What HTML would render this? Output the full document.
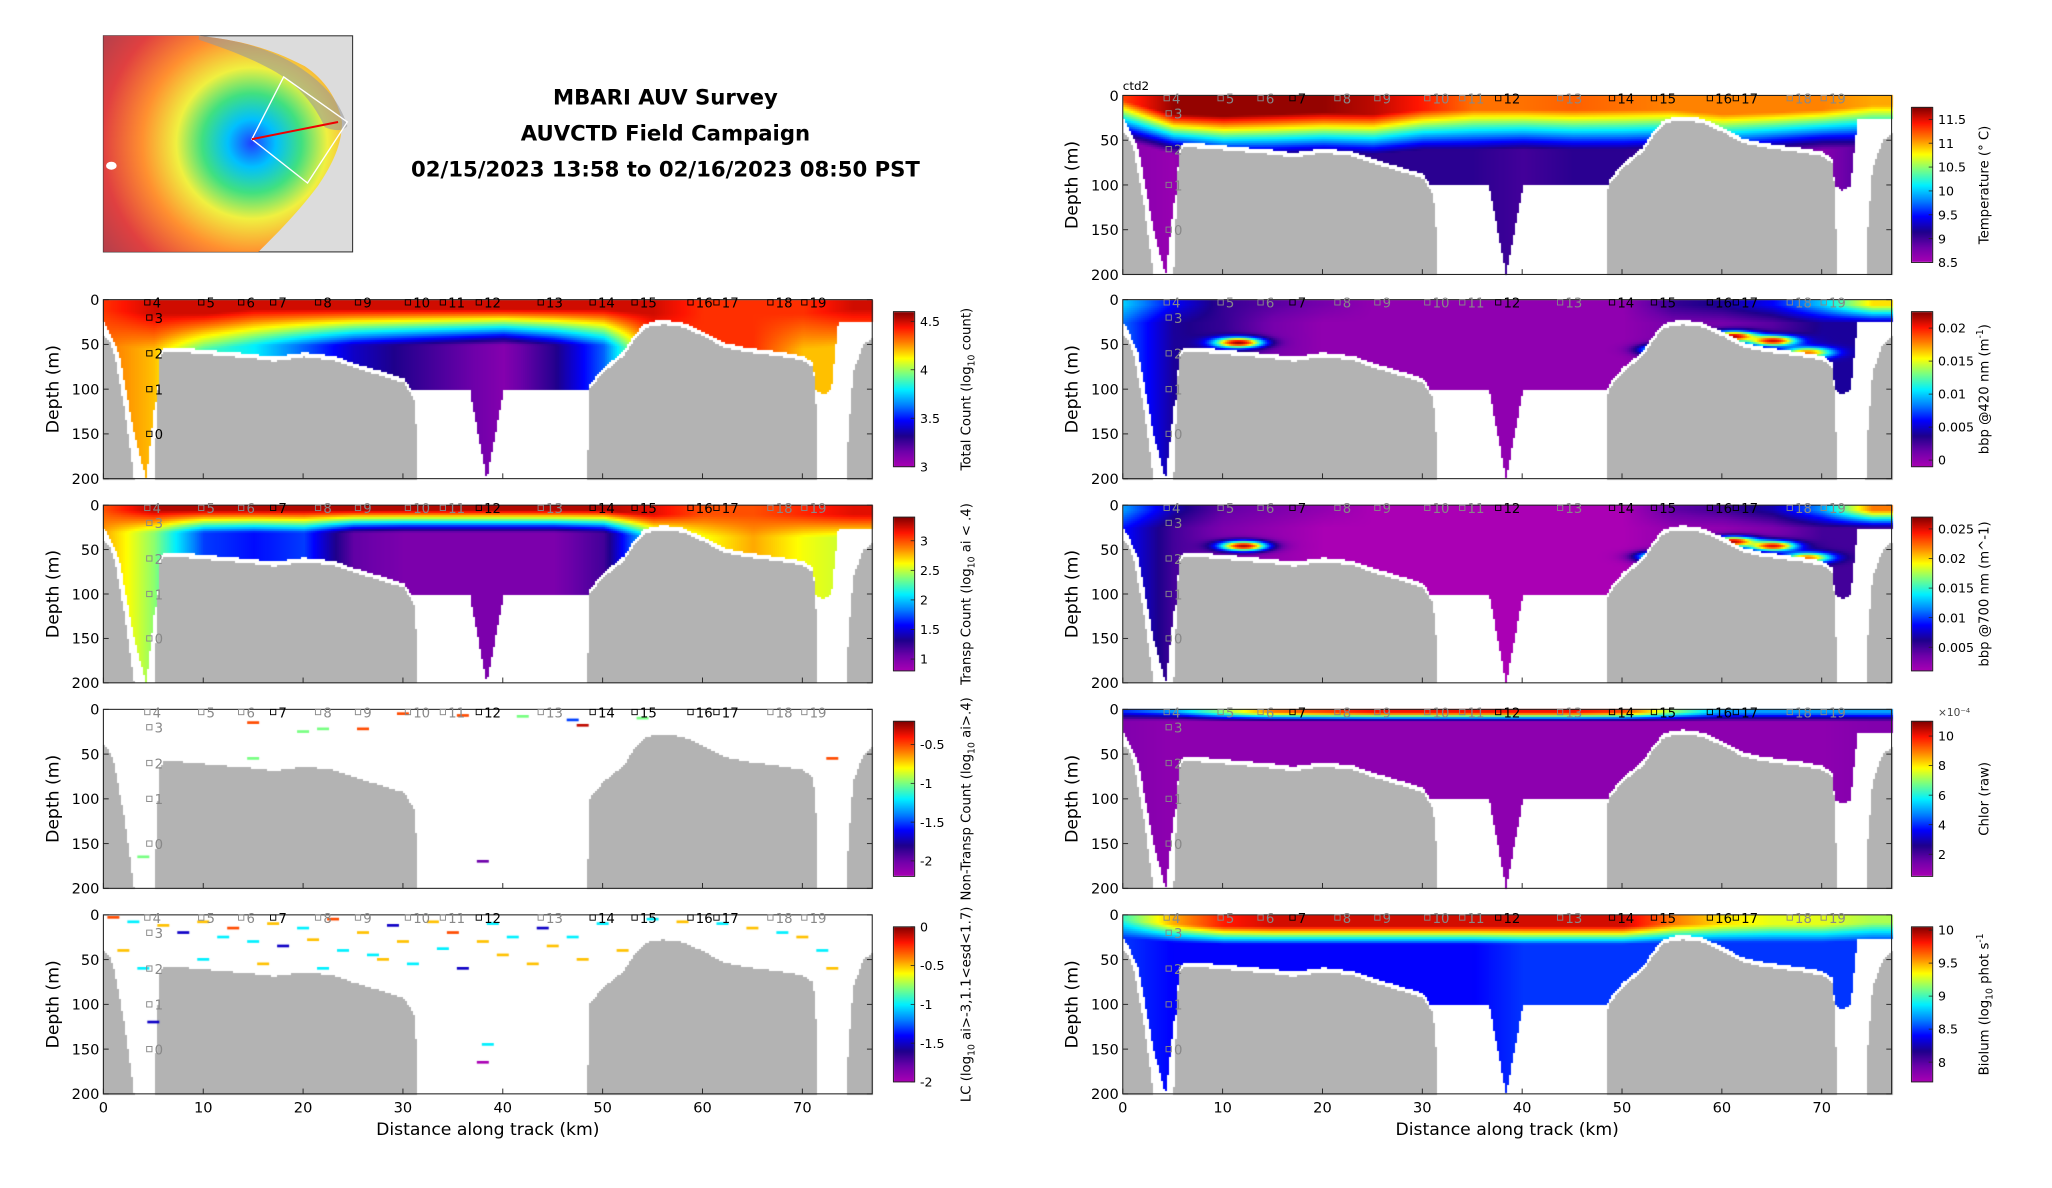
<!DOCTYPE html>
<html><head><meta charset="utf-8">
<style>
html,body{margin:0;padding:0;background:#fff;}
#wrap{position:relative;width:2052px;height:1188px;overflow:hidden;}
canvas,svg{position:absolute;left:0;top:0;}
text{font-family:"DejaVu Sans","Liberation Sans",sans-serif;}
</style></head>
<body>
<div id="wrap">
<canvas id="cv" width="2052" height="1188"></canvas>
<svg id="sv" width="2052" height="1188" viewBox="0 0 1548 896" preserveAspectRatio="none">
<defs>
<radialGradient id="mapg" cx="190" cy="108" r="150" gradientUnits="userSpaceOnUse">
<stop offset="0" stop-color="#2040ff"/><stop offset="0.12" stop-color="#00c0ff"/>
<stop offset="0.25" stop-color="#40e080"/><stop offset="0.38" stop-color="#f0f040"/>
<stop offset="0.55" stop-color="#ff9030"/><stop offset="0.75" stop-color="#e04040"/>
<stop offset="1" stop-color="#a04050"/></radialGradient>
</defs>
<g id="map">
<rect x="78" y="27" width="188" height="163" fill="#dcdcdc" stroke="#333" stroke-width="0.8"/>
<path d="M78,27 L150,27 C175,30 200,34 230,50 C245,60 255,75 258,92 C258,110 250,125 240,140 C225,160 210,175 195,190 L78,190 Z" fill="url(#mapg)"/>
<path d="M150,27 C180,30 210,38 232,55 C250,68 258,82 262,95 C258,100 250,98 245,96 C238,80 225,62 200,50 C185,42 165,35 150,30 Z" fill="#9a9a9a" opacity="0.6"/>
<polygon points="190,105 214,58 262,92 232,138" fill="none" stroke="#fff" stroke-width="1"/>
<line x1="190" y1="105" x2="255" y2="92" stroke="#e00" stroke-width="1.5"/>
<ellipse cx="84" cy="125" rx="4" ry="3" fill="#fff"/>
</g>
<g font-weight="bold" font-size="16" text-anchor="middle">
<text x="502" y="79">MBARI AUV Survey</text>
<text x="502" y="106">AUVCTD Field Campaign</text>
<text x="502" y="133">02/15/2023 13:58 to 02/16/2023 08:50 PST</text>
</g>
<g id="axes"></g>
</svg>
</div>
<script>
// ---------- shared data ----------
const knotKm = [0,5,10,15,20,25,30,35,40,45,50,55,60,65,70,75];
const bathyKm = [0,0.5,1,2,3,3.5,4.5,5,5.5,6,8,10,12,15,17,20,23,25,28,30,31,31.3,31.5,48.3,48.5,50,52,53,54,55,56,57,58,60,62,64,66,68,70,71,71.3,71.5,74,74.5,75,76,77];
const bathyZ  = [40,45,60,120,200,300,300,200,65,57,58,60,62,65,68,63,67,75,85,92,110,150,300,300,100,80,62,45,32,28,27,28,30,40,52,57,60,63,67,75,120,300,300,150,80,50,40];
const capKm = [0,0.5,1.5,3,4.2,5,5.5,36.6,38.3,40,71.2,72,72.8,73.5,77];
const capZ  = [25,35,60,150,200,120,100,100,200,100,100,105,100,25,25];
const stationKm = [4.4,9.8,13.8,17,21.5,25.5,30.5,34,37.6,43.8,49,53.2,58.8,61.4,66.8,70.2];
const stationLbl = ["4","5","6","7","8","9","10","11","12","13","14","15","16","17","18","19"];
const stationDark = [0,0,0,1,0,0,0,0,1,0,1,1,1,1,0,0];
const profLbl = ["3","2","1","0"];
const profZ = [20,60,100,150];
const xTicks = [0,10,20,30,40,50,60,70];
const yTicks = [0,50,100,150,200];

// ---------- panel field data ----------
const tempTop  = [11.3,11.7,11.7,11.7,11.7,11.6,11.4,11.15,11.15,11.2,11.15,11.1,11.1,11.1,11.1,11.0];
const tempMld  = [5,20,22,20,18,20,15,15,15,15,15,15,20,18,15,10];
const tempDeep = [8.7,8.6,9.0,9.1,9.1,9.1,9.1,9.1,9.0,9.1,9.1,9.0,9.0,8.8,8.7,9.0];

const totTop  = [4.4,4.5,4.5,4.5,4.5,4.5,4.5,4.5,4.5,4.5,4.5,4.5,4.4,4.4,4.4,4.5];
const totMld  = [10,15,15,10,10,10,10,10,10,10,10,15,15,15,15,10];
const totDeep = [4.3,4.2,3.9,3.8,3.6,3.4,3.3,3.2,3.1,3.3,3.6,4.3,4.4,4.4,4.2,4.2];

const trTop  = [3.0,3.3,3.3,3.3,3.3,3.3,3.3,3.3,3.3,3.3,3.3,3.2,3.0,3.0,3.1,3.2];
const trMld  = [5,5,5,5,5,5,5,5,5,5,5,10,10,10,10,10];
const trDeep = [2.8,2.4,1.7,1.6,1.7,1.1,1.0,1.0,1.0,1.0,1.2,2.2,2.6,2.8,2.6,2.5];

const b4Top  = [0.010,0.006,0.003,0.002,0.001,0.0,0.0,0.0,0.0,0.0,0.0,0.003,0.004,0.006,0.010,0.016];
const b4Mld  = [5,5,5,5,5,5,5,5,5,5,5,5,5,5,5,5];
const b4Deep = [0.008,0.004,0.003,0.001,0.0,0.0,0.0,0.0,0.0,0.0,0.0,0.001,0.001,0.002,0.004,0.004];
const b4BlobKm = [11.5,54.5,61,65,68.5];
const b4BlobZ  = [47,55,40,45,58];
const b4BlobV  = [0.022,0.02,0.022,0.021,0.018];

const b7Top  = [0.012,0.007,0.004,0.003,0.002,0.001,0.001,0.001,0.001,0.001,0.001,0.004,0.005,0.007,0.012,0.022];
const b7Mld  = [5,5,5,5,5,5,5,5,5,5,5,5,5,5,5,5];
const b7Deep = [0.009,0.005,0.003,0.002,0.001,0.001,0.001,0.001,0.001,0.001,0.001,0.002,0.002,0.003,0.005,0.005];
const b7BlobKm = [12,54,61,65,68.5];
const b7BlobZ  = [45,57,40,45,58];
const b7BlobV  = [0.026,0.024,0.026,0.025,0.022];

const chTop  = [4,5,7,9,9.5,10,10,10,10,10,9.5,7,5,5,5,5];
const chMld  = [2,2,3,3,3,3,3,3,3,3,3,3,3,3,3,3];
const chDeep = [1.2,1.0,1.0,1.0,1.0,1.0,1.0,1.0,1.0,1.0,1.0,1.0,1.0,1.0,1.0,1.2];

const blTop  = [9.0,9.5,9.8,9.9,9.9,9.9,9.9,9.9,9.9,9.9,9.9,9.6,9.4,9.3,9.3,9.2];
const blMld  = [5,10,12,12,12,12,12,12,12,12,12,10,10,10,10,8];
const blDeep = [8.5,8.4,8.4,8.4,8.4,8.4,8.4,8.4,8.5,8.5,8.5,8.5,8.5,8.5,8.5,8.5];

const ntKm  = [15,20,22,26,36,47,48,54,73,4,38,15,30,42];
const ntZ   = [15,25,22,22,7,12,18,10,55,165,170,55,5,8];
const ntVal = [-0.5,-1,-1,-0.5,-0.5,-1.5,-0.3,-1,-0.5,-1,-2,-1,-0.5,-1];

const lcKm  = [1,3,6,8,10,12,13,15,17,18,20,21,23,24,26,27,29,30,31,33,34,35,36,38,39,40,41,43,44,45,47,48,50,52,55,58,62,65,68,70,72,73,4,5,38.5,38,2,10,16,22,28];
const lcZ   = [3,8,12,20,8,25,15,30,10,35,15,28,5,40,20,45,12,30,55,8,38,20,60,30,10,45,25,55,15,35,25,50,10,40,5,8,10,15,20,25,40,60,60,120,145,165,40,50,55,60,50];
const lcVal = [-0.3,-1,-0.5,-1.5,-0.5,-1,-0.3,-1,-0.5,-1.5,-1,-0.5,-0.3,-1,-0.5,-1,-1.5,-0.5,-1,-0.5,-1,-0.3,-1.5,-0.5,-1,-0.5,-1,-0.5,-1.5,-0.5,-1,-0.5,-1,-0.5,-1,-0.5,-1,-0.5,-1,-0.5,-1,-0.5,-1,-1.5,-1,-2,-0.5,-1,-0.5,-1,-0.5];

// ---------- helpers ----------
function interp(xs,ys,x){
  if(x<=xs[0])return ys[0];
  for(let i=1;i<xs.length;i++){ if(x<=xs[i]){const t=(x-xs[i-1])/(xs[i]-xs[i-1]||1);return ys[i-1]+t*(ys[i]-ys[i-1]);} }
  return ys[ys.length-1];
}
const cmStops=[[0,[170,0,180]],[0.1,[110,0,170]],[0.2,[30,0,140]],[0.3,[0,0,255]],[0.4,[0,128,255]],[0.5,[0,240,255]],[0.6,[120,255,130]],[0.7,[255,255,0]],[0.8,[255,130,0]],[0.9,[255,20,0]],[1,[130,0,0]]];
function cmap(t){
  t=Math.max(0,Math.min(1,t));
  for(let i=1;i<cmStops.length;i++){ if(t<=cmStops[i][0]){const a=cmStops[i-1],b=cmStops[i];const u=(t-a[0])/(b[0]-a[0]);
    return 'rgb('+a[1].map((c,k)=>Math.round(c+u*(b[1][k]-c))).join(',')+')';} }
  return 'rgb(130,0,0)';
}
function profileField(top,mld,deep,thick,bk,bz,bv,rx,rz){
  return function(km,z){
    const m=interp(knotKm,mld,km),a=interp(knotKm,top,km),d=interp(knotKm,deep,km);
    let v = z<m?a:(z<m+thick? a+(d-a)*(z-m)/thick : d);
    if(bk){ for(let i=0;i<bk.length;i++){ const e=Math.exp(-Math.pow((km-bk[i])/rx,2)-Math.pow((z-bz[i])/rz,2)); v=Math.max(v, v+(bv[i]-v)*e);} }
    return v;
  };
}

const panels=[
 {id:'total-count',x0:78,y0:226,y1:361,side:'L',vmin:3,vmax:4.6,ticks:[3,3.5,4,4.5],lbl:['Total Count (log','10',' count)'],field:profileField(totTop,totMld,totDeep,40),dark:1},
 {id:'transp-count',x0:78,y0:381,y1:515,side:'L',vmin:0.8,vmax:3.4,ticks:[1,1.5,2,2.5,3],lbl:['Transp Count (log','10',' ai < .4)'],field:profileField(trTop,trMld,trDeep,25)},
 {id:'nontransp-count',x0:78,y0:535,y1:670,side:'L',vmin:-2.2,vmax:-0.2,ticks:[-2,-1.5,-1,-0.5],lbl:['Non-Transp Count (log','10',' ai>.4)'],pts:[ntKm,ntZ,ntVal]},
 {id:'lc',x0:78,y0:690,y1:825,side:'L',vmin:-2,vmax:0,ticks:[-2,-1.5,-1,-0.5,0],lbl:['LC (log','10',' ai>-3,1.1<esd<1.7)'],pts:[lcKm,lcZ,lcVal],xl:1},
 {id:'temperature',x0:847,y0:72,y1:207,side:'R',vmin:8.5,vmax:11.75,ticks:[8.5,9,9.5,10,10.5,11,11.5],lbl:['Temperature (° C)','',''],field:profileField(tempTop,tempMld,tempDeep,45),ctd:1},
 {id:'bbp420',x0:847,y0:226,y1:361,side:'R',vmin:-0.001,vmax:0.0225,ticks:[0,0.005,0.01,0.015,0.02],lbl:['bbp @420 nm (m','-1',')'],sup:1,field:profileField(b4Top,b4Mld,b4Deep,20,b4BlobKm,b4BlobZ,b4BlobV,2.5,6)},
 {id:'bbp700',x0:847,y0:381,y1:515,side:'R',vmin:0.001,vmax:0.027,ticks:[0.005,0.01,0.015,0.02,0.025],lbl:['bbp @700 nm (m^-1)','',''],field:profileField(b7Top,b7Mld,b7Deep,20,b7BlobKm,b7BlobZ,b7BlobV,2.5,6)},
 {id:'chlorophyll',x0:847,y0:535,y1:670,side:'R',vmin:0.5,vmax:11,ticks:[2,4,6,8,10],lbl:['Chlor (raw)','',''],field:profileField(chTop,chMld,chDeep,10),exp:1},
 {id:'bioluminescence',x0:847,y0:690,y1:825,side:'R',vmin:7.7,vmax:10.05,ticks:[8,8.5,9,9.5,10],lbl:['Biolum (log','10',' phot s',''],field:profileField(blTop,blMld,blDeep,20),xl:1},
];
const W=580, S=2052/1548;
const cv=document.getElementById('cv'), ctx=cv.getContext('2d');
const NS='http://www.w3.org/2000/svg';
const axesG=document.getElementById('axes');
function el(tag,attrs,parent){const e=document.createElementNS(NS,tag);for(const k in attrs)e.setAttribute(k,attrs[k]);(parent||axesG).appendChild(e);return e;}

panels.forEach(p=>{
  const x0=p.x0,x1=x0+W,y0=p.y0,y1=p.y1,H=y1-y0;
  const xs=km=>x0+km/77*W, ys=z=>y0+z/200*H;
  const rx0=Math.round(x0*S),rx1=Math.round(x1*S),ry0=Math.round(y0*S),ry1=Math.round(y1*S);
  for(let rx=rx0;rx<rx1;rx+=2){
    const km=(rx/S-x0)/W*77;
    const bz=interp(bathyKm,bathyZ,km), cz=interp(capKm,capZ,km);
    const db=Math.min(cz,bz-5);
    for(let ry=ry0;ry<ry1;ry+=2){
      const z=(ry/S-y0)/H*200;
      let col=null;
      if(z>=bz) col='#b3b3b3';
      else if(z<db && p.field) col=cmap((p.field(km,z)-p.vmin)/(p.vmax-p.vmin));
      if(col){ctx.fillStyle=col;ctx.fillRect(rx,ry,2,2);}
    }
  }
  if(p.pts){
    const [pk,pz,pv]=p.pts;
    for(let i=0;i<pk.length;i++){
      ctx.fillStyle=cmap((pv[i]-p.vmin)/(p.vmax-p.vmin));
      ctx.fillRect(xs(pk[i]-0.6)*S,ys(pz[i]-1.5)*S,(1.2/77*W)*S,(3/200*H)*S);
    }
  }
  const cx0=p.side==='L'?674:1442, cw=16, cy0=y0+9, cy1=y1-9;
  for(let ry=Math.round(cy0*S);ry<Math.round(cy1*S);ry++){
    ctx.fillStyle=cmap(1-(ry/S-cy0)/(cy1-cy0));ctx.fillRect(cx0*S,ry,cw*S,1);
  }
  const g=el('g',{});
  
  
  const frame=el('rect',{x:x0,y:y0,width:W,height:H,fill:'none',stroke:'#222','stroke-width':0.8},g);
  
  
  yTicks.forEach(v=>{
    const y=ys(v);
    el('line',{x1:x0,x2:x0+4,y1:y,y2:y,stroke:'#222','stroke-width':0.7},g);
    el('line',{x1:x1,x2:x1-4,y1:y,y2:y,stroke:'#222','stroke-width':0.7},g);
    const t=el('text',{x:x0-3,y:y+4,'font-size':11,'text-anchor':'end'},g);
    t.textContent=v;
    
    
  });
  xTicks.forEach(v=>{
    const x=xs(v);
    el('line',{x1:x,x2:x,y1:y1,y2:y1-4,stroke:'#222','stroke-width':0.7},g);
    if(p.xl){const t=el('text',{x:x,y:y1+14,'font-size':11,'text-anchor':'middle'},g);t.textContent=v;
      
      }
  });
  const yt=el('text',{x:0,y:0,'font-size':13,'text-anchor':'middle',transform:`translate(${x0-34},${(y0+y1)/2}) rotate(-90)`},g);
  yt.textContent='Depth (m)';
  
  
  if(p.xl){const xt=el('text',{x:(x0+x1)/2,y:y1+31,'font-size':13,'text-anchor':'middle'},g);xt.textContent='Distance along track (km)';
    
    }
  if(p.ctd){const c=el('text',{x:x0,y:y0-4,'font-size':9},g);c.textContent='ctd2';
    
    }
  const dk=p.dark?1:0;
  stationKm.forEach((k,i)=>{
    const col=(stationDark[i]||dk)?'#000':'#888';
    const x=xs(k), y=ys(3);
    el('rect',{x:x-2,y:y-2,width:4,height:4,fill:'none',stroke:col,'stroke-width':0.7},g);
    const t=el('text',{x:x+4,y:y+4,'font-size':10,fill:col},g);t.textContent=stationLbl[i];
    
    
  });
  profZ.forEach((z,i)=>{
    const x=xs(4.6), y=ys(z), col=dk?'#000':'#888';
    el('rect',{x:x-2,y:y-2,width:4,height:4,fill:'none',stroke:col,'stroke-width':0.7},g);
    const t=el('text',{x:x+4,y:y+4,'font-size':10,fill:col},g);t.textContent=profLbl[i];
    
    
  });
  const cb=el('rect',{x:cx0,y:cy0,width:cw,height:cy1-cy0,fill:'none',stroke:'#222','stroke-width':0.7},g);
  
  
  p.ticks.forEach(v=>{
    const y=cy1-(v-p.vmin)/(p.vmax-p.vmin)*(cy1-cy0);
    el('line',{x1:cx0+cw,x2:cx0+cw-3,y1:y,y2:y,stroke:'#222','stroke-width':0.6},g);
    const t=el('text',{x:cx0+cw+4,y:y+3.5,'font-size':9.5},g);t.textContent=v;
    
    
  });
  if(p.exp){const t=el('text',{x:cx0+cw+4,y:cy0-4,'font-size':8,fill:'#444'},g);t.textContent='×10⁻⁴';
    
    }
  const lt=el('text',{x:0,y:0,'font-size':10,'text-anchor':'middle',transform:`translate(${cx0+cw+42},${(cy0+cy1)/2}) rotate(-90)`},g);
  
  
  const a=document.createElementNS(NS,'tspan');a.textContent=p.lbl[0];lt.appendChild(a);
  if(p.lbl[1]){const b=document.createElementNS(NS,'tspan');b.setAttribute('font-size','7');b.setAttribute('dy',p.sup?'-4':'3');b.textContent=p.lbl[1];lt.appendChild(b);
    const c=document.createElementNS(NS,'tspan');c.setAttribute('dy',p.sup?'4':'-3');c.textContent=p.lbl[2];lt.appendChild(c);
    if(p.lbl.length>3){const d=document.createElementNS(NS,'tspan');d.setAttribute('font-size','7');d.setAttribute('dy','-4');d.textContent='-1';lt.appendChild(d);}}
});
</script>
</body></html>
